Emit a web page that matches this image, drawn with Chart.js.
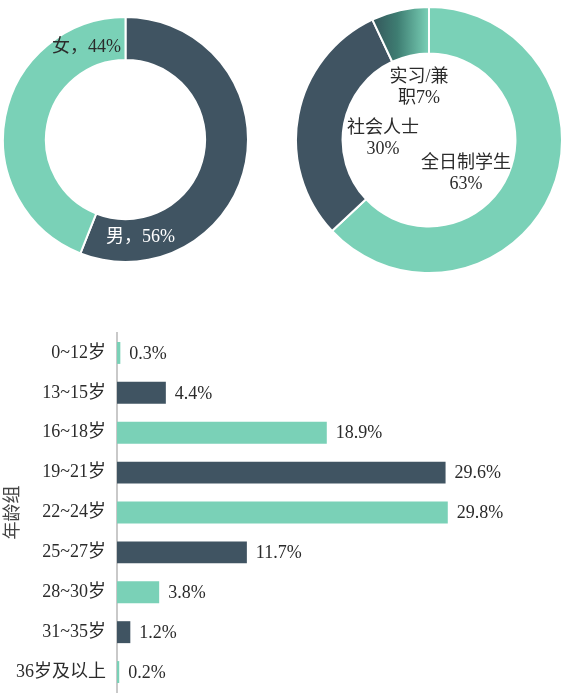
<!DOCTYPE html>
<html>
<head>
<meta charset="utf-8">
<script src="https://cdn.jsdelivr.net/npm/chart.js@4/dist/chart.umd.min.js"></script>
<style>
  html,body{margin:0;padding:0;background:#fff;}
  #page{position:relative;width:566px;height:698px;overflow:hidden;}
  .box{position:absolute;}
</style>
</head>
<body>
<div id="page">
  <div class="box" style="left:2px;top:16px;width:247px;height:247px;"><canvas id="genderChart"></canvas></div>
  <div class="box" style="left:295px;top:6px;width:268px;height:268px;"><canvas id="identityChart"></canvas></div>
  <div class="box" style="left:0;top:320px;width:566px;height:378px;"><canvas id="ageChart"></canvas></div>
</div>
<script>
// data
const genderLabels = ['男', '女'];
const genderShare  = [56, 44];
const identityLabels = ['全日制学生', '社会人士', '实习/兼职'];
const identityShare  = [63, 30, 7];
const ageGroups = ['0~12岁','13~15岁','16~18岁','19~21岁','22~24岁','25~27岁','28~30岁','31~35岁','36岁及以上'];
const ageShare  = [0.3, 4.4, 18.9, 29.6, 29.8, 11.7, 3.8, 1.2, 0.2];
const ageAxisTitle = '年龄组';

// look
const LIGHT = '#7ad1b7';
const DARK  = '#405462';
const TEXT  = '#2b2b2b';
const FONT  = '"Liberation Serif", "Noto Sans CJK SC", serif';

Chart.defaults.font.family = FONT;
Chart.defaults.animation = false;

// text labels placed around the doughnut centre (offsets in px)
const ringText = {
  id: 'ringText',
  afterDatasetsDraw(chart, args, opts){
    const arc = chart.getDatasetMeta(0).data[0];
    if (!arc) return;
    const c = chart.ctx;
    c.save();
    c.font = '18px ' + FONT;
    c.textAlign = 'center'; c.textBaseline = 'middle';
    (opts.items||[]).forEach(it=>{
      c.fillStyle = it.color || TEXT;
      it.lines.forEach((ln, k)=>c.fillText(ln, arc.x + it.dx, arc.y + it.dy + k*21));
    });
    c.restore();
  }
};

// value labels at the end of the bars
const barText = {
  id: 'barText',
  afterDatasetsDraw(chart){
    const c = chart.ctx;
    const meta = chart.getDatasetMeta(0);
    c.save();
    c.font = '18px ' + FONT;
    c.fillStyle = TEXT; c.textAlign = 'left'; c.textBaseline = 'middle';
    meta.data.forEach((bar, i)=>{
      c.fillText(ageShare[i].toFixed(1) + '%', bar.x + 9, bar.y + 1);
    });
    c.restore();
  }
};

const pct = (labels, vals, i, sep) => labels[i] + sep + vals[i] + '%';

new Chart(document.getElementById('genderChart'), {
  type: 'doughnut',
  data: {
    labels: genderLabels,
    datasets: [{
      data: genderShare,
      backgroundColor: [DARK, LIGHT],
      borderColor: '#fff', borderWidth: 2, hoverOffset: 0
    }]
  },
  options: {
    responsive: true, maintainAspectRatio: false, cutout: '65%',
    plugins: {
      legend: {display: false}, tooltip: {enabled: false},
      ringText: {items: [
        {lines: [pct(genderLabels, genderShare, 1, '，')], dx: -39, dy: -92},
        {lines: [pct(genderLabels, genderShare, 0, '，')], dx: 15, dy: 98, color: '#fff'}
      ]}
    }
  },
  plugins: [ringText]
});

new Chart(document.getElementById('identityChart'), {
  type: 'doughnut',
  data: {
    labels: identityLabels,
    datasets: [{
      data: identityShare,
      backgroundColor: (ctx)=>{
        if (ctx.dataIndex === 0) return LIGHT;
        if (ctx.dataIndex === 1) return DARK;
        const ca = ctx.chart.chartArea;
        if (!ca) return DARK;
        const cx = (ca.left + ca.right)/2, R = Math.min(ca.width, ca.height)/2;
        const g = ctx.chart.ctx.createLinearGradient(cx - R*0.43, 0, cx, 0);
        g.addColorStop(0, '#34545a');
        g.addColorStop(0.45, '#3e7d72');
        g.addColorStop(1, '#7ad1b7');
        return g;
      },
      borderColor: '#fff', borderWidth: 2, hoverOffset: 0
    }]
  },
  options: {
    responsive: true, maintainAspectRatio: false, cutout: '65%',
    plugins: {
      legend: {display: false}, tooltip: {enabled: false},
      ringText: {items: [
        {lines: ['实习/兼', '职' + identityShare[2] + '%'], dx: -10, dy: -63},
        {lines: [identityLabels[1], identityShare[1] + '%'], dx: -46, dy: -12},
        {lines: [identityLabels[0], identityShare[0] + '%'], dx: 37, dy: 23}
      ]}
    }
  },
  plugins: [ringText]
});

new Chart(document.getElementById('ageChart'), {
  type: 'bar',
  data: {
    labels: ageGroups,
    datasets: [{
      data: ageShare,
      backgroundColor: ageShare.map((_, i)=> i % 2 ? DARK : LIGHT),
      barPercentage: 0.55, categoryPercentage: 1
    }]
  },
  options: {
    indexAxis: 'y',
    responsive: true, maintainAspectRatio: false,
    layout: {padding: {top: 13, right: 5, bottom: 6, left: 0}},
    scales: {
      x: {display: false, min: 0, max: 40},
      y: {
        grid: {display: false, drawTicks: false},
        border: {display: true, color: '#c9c9c9', width: 2},
        ticks: {color: TEXT, font: {size: 18}, padding: 11},
        title: {display: true, text: ageAxisTitle, color: '#444', font: {size: 18}, padding: {top: 2, bottom: 0}},
        afterFit: (s)=>{ s.width = 117; s.paddingTop = 0; s.paddingBottom = 0; }
      }
    },
    plugins: {legend: {display: false}, tooltip: {enabled: false}}
  },
  plugins: [barText]
});
</script>
</body>
</html>
